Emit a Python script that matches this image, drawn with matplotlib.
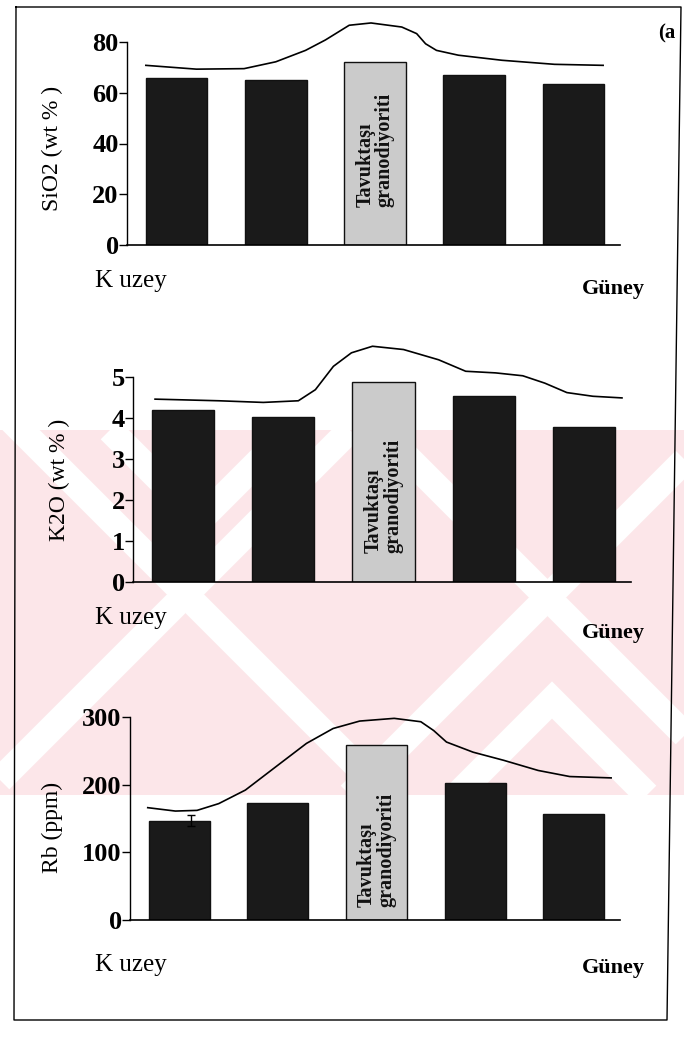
import matplotlib.pyplot as plt
from matplotlib.patches import Rectangle

plt.rcParams['font.family'] = ['Liberation Serif', 'DejaVu Serif']

W, H = 684, 1040

# bar values, north (Kuzey) -> south (Güney); middle bar = Tavuktaşı granodiyoriti
sio2 = [66.0, 64.9, 72.1, 66.8, 63.3]
k2o = [4.20, 4.02, 4.87, 4.53, 3.78]
rb = [147, 173, 258, 203, 156]
rb_err = [8, 0, 0, 0, 0]

# envelope curves drawn above the bars (x in bar-index units)
sio2_cx = [-0.31, 0.20, 0.68, 1.00, 1.30, 1.50, 1.74, 1.96, 2.27, 2.42, 2.51, 2.62, 2.84, 3.28, 3.81, 4.30]
sio2_cy = [70.8, 69.3, 69.5, 72.2, 76.7, 80.8, 86.6, 87.5, 85.9, 83.3, 79.3, 76.7, 74.8, 72.8, 71.2, 70.8]
k2o_cx = [-0.28, 0.36, 0.80, 1.15, 1.32, 1.50, 1.68, 1.89, 2.20, 2.55, 2.82, 3.12, 3.39, 3.61, 3.83, 4.09, 4.38]
k2o_cy = [4.46, 4.42, 4.38, 4.42, 4.69, 5.26, 5.59, 5.75, 5.67, 5.42, 5.14, 5.10, 5.03, 4.85, 4.62, 4.53, 4.49]
rb_cx = [-0.32, -0.04, 0.18, 0.40, 0.67, 1.02, 1.29, 1.56, 1.83, 2.18, 2.45, 2.58, 2.71, 2.98, 3.29, 3.64, 3.96, 4.38]
rb_cy = [166, 161, 162, 172, 192, 231, 261, 283, 294, 298, 293, 280, 263, 248, 236, 221, 212, 210]

ylabels = ['SiO2 (wt % )', 'K2O (wt % )', 'Rb (ppm)']
yticks = [[0, 20, 40, 60, 80], [0, 1, 2, 3, 4, 5], [0, 100, 200, 300]]
mid_label = 'Tavuktaşı\ngranodiyoriti'

fig = plt.figure(figsize=(W / 100, H / 100), dpi=100)

# background: page border and faint pink watermark (pixel coords)
bg = fig.add_axes([0, 0, 1, 1], zorder=-5)
bg.set_xlim(0, W)
bg.set_ylim(H, 0)
bg.axis('off')
band = Rectangle((0, 430), W, 365, fc='#fce6e9', ec='none')
bg.add_patch(band)
stripes = [[(0, 780), (350, 430)], [(350, 795), (715, 430)], [(-409, 0), (600, 1009)],
           [(0, 50), (800, 850)], [(457, 795), (552, 700), (647, 795)],
           [(110, 430), (200, 520), (290, 430)]]
for pts in stripes:
    xs = [p[0] for p in pts]
    ys = [p[1] for p in pts]
    ln, = bg.plot(xs, ys, color='white', lw=19, solid_capstyle='butt', solid_joinstyle='miter')
    ln.set_clip_path(band)
bg.plot([16, 681, 667, 14, 16], [7, 7, 1020, 1020, 7], color='black', lw=1)
bg.text(658, 38, '(a', fontsize=15, fontweight='bold', ha='left', va='baseline')


def panel(box, vals, cx, cy, ylab, lab_x, ticks, lab_y, kuzey_y, guney_y, text_bottom, err=None):
    l, r, t, b = box
    ax = fig.add_axes([l / W, 1 - b / H, (r - l) / W, (b - t) / H])
    ax.set_facecolor('none')
    xs = list(range(len(vals)))
    colors = ['#1a1a1a', '#1a1a1a', '#cbcbcb', '#1a1a1a', '#1a1a1a']
    ax.bar(xs, vals, width=0.62, color=colors, edgecolor='#111111', linewidth=1, zorder=2)
    if err is not None:
        ax.errorbar([0.12], [vals[0]], yerr=[err[0]], fmt='none', ecolor='black',
                    capsize=3, lw=1, zorder=3)
    ax.plot(cx, cy, color='black', lw=1.2, clip_on=False, zorder=3)
    ax.text(2, text_bottom, mid_label, rotation=90, ha='center', va='bottom',
            multialignment='left', fontsize=14.5, fontweight='bold', color='#111111',
            linespacing=0.95, zorder=4)
    ax.set_xlim(-0.5, 4.47)
    ax.set_ylim(ticks[0], ticks[-1])
    ax.set_yticks(ticks)
    ax.set_xticks([])
    for s in ['top', 'right']:
        ax.spines[s].set_visible(False)
    ax.spines['left'].set_linewidth(1)
    ax.spines['bottom'].set_linewidth(1.2)
    ax.tick_params(axis='y', direction='out', length=6, width=1, pad=0, labelsize=19)
    for lb in ax.get_yticklabels():
        lb.set_fontweight('bold')
    fig.text(lab_x / W, 1 - lab_y / H, ylab, rotation=90,
             ha='center', va='center', fontsize=17)
    fig.text(95 / W, 1 - kuzey_y / H, 'K uzey', fontsize=18, ha='left', va='center')
    fig.text(582 / W, 1 - guney_y / H, 'Güney', fontsize=16, fontweight='bold', ha='left', va='center')
    return ax


panel((127, 620, 42, 245), sio2, sio2_cx, sio2_cy, ylabels[0], 52, yticks[0], 148, 281, 289, 15)
panel((133, 631, 377, 582), k2o, k2o_cx, k2o_cy, ylabels[1], 59, yticks[1], 480, 618, 633, 0.7)
panel((130, 620, 717, 920), rb, rb_cx, rb_cy, ylabels[2], 52, yticks[2], 827, 965, 968, 19, err=rb_err)

fig.savefig('out.png', dpi=100)
